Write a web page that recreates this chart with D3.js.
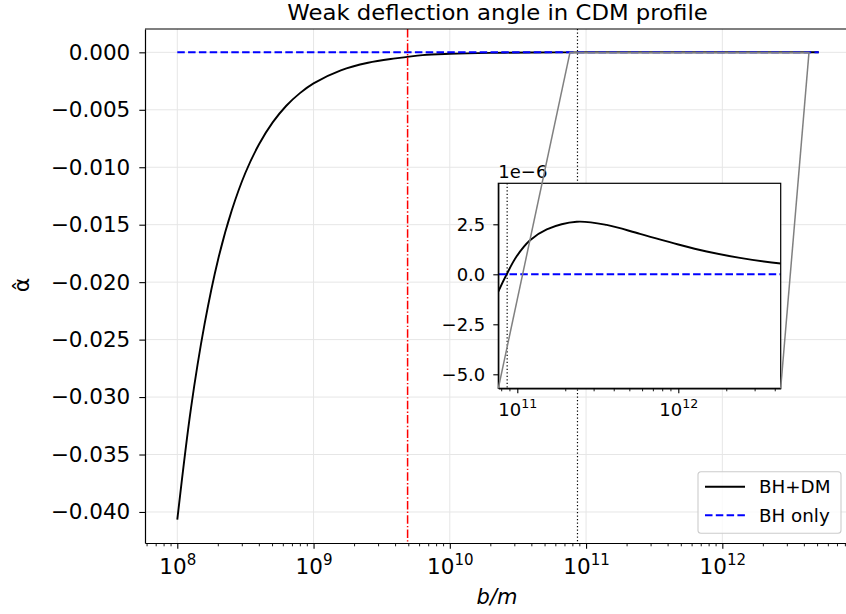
<!DOCTYPE html>
<html>
<head>
<meta charset="utf-8">
<script src="https://cdn.jsdelivr.net/npm/d3@7"></script>
<style>
  body { margin: 0; background: #fff; }
  svg { display: block; font-family: "DejaVu Sans", sans-serif; }
</style>
</head>
<body>
<svg id="chart" width="846" height="614"></svg>
<script>
// values
const bGrid = [1e8, 1.259e8, 1.585e8, 1.995e8, 2.512e8, 3.162e8, 3.981e8, 5.012e8, 6.31e8, 7.943e8,
  1e9, 1.585e9, 2.512e9, 3.981e9, 6.31e9, 1e10, 2e10, 4e10, 6.31e10,
  7.62e10, 8.59e10, 9.91e10, 1.2e11, 1.524e11, 2.339e11, 3.589e11, 5.781e11,
  1e12, 1.5e12, 2.415e12, 4.325e12, 5.1e12];
const alphaBHDM = [-0.04067, -0.0310, -0.02365, -0.0180, -0.01375, -0.01048, -0.0080, -0.0061, -0.00465, -0.00355,
  -0.0027, -0.00157, -0.00091, -0.00053, -0.00024, -0.00013, -5e-5, -1.4e-5, -2.4e-6,
  -0.87e-6, 0, 0.9e-6, 1.7e-6, 2.25e-6, 2.63e-6, 2.47e-6, 2.02e-6,
  1.49e-6, 1.14e-6, 0.82e-6, 0.54e-6, 0.5e-6];
const bBHonly = [1e8, 5.1e12];
const alphaBHonly = [0, 0];

const yTicks = [0, -0.005, -0.01, -0.015, -0.02, -0.025, -0.03, -0.035, -0.04];
const xTickExps = [8, 9, 10, 11, 12];
const insetYTicks = [2.5e-6, 0, -2.5e-6, -5e-6];
const insetXTickExps = [11, 12];
const bRedLine = 4.9e9;
const bDotLine = 8.65e10;

const svg = d3.select("#chart");
const main = { left: 145, right: 850, top: 29, bottom: 543 };
const ins = { left: 498.3, right: 780.7, top: 183.3, bottom: 388.3 };

const x = d3.scaleLog().domain([Math.pow(10, 7.763), Math.pow(10, 12.937)]).range([main.left, main.right]);
const y = d3.scaleLinear().domain([-0.0427, 0.00203]).range([main.bottom, main.top]);
const xi = d3.scaleLog().domain([Math.pow(10, 10.882), Math.pow(10, 12.636)]).range([ins.left, ins.right]);
const yi = d3.scaleLinear().domain([-5.7e-6, 4.55e-6]).range([ins.bottom, ins.top]);

const series = bGrid.map((b, i) => ({ b: b, a: alphaBHDM[i] }));
const bhOnly = bBHonly.map((b, i) => ({ b: b, a: alphaBHonly[i] }));

const defs = svg.append("defs");
defs.append("clipPath").attr("id", "clipMain").append("rect")
  .attr("x", main.left).attr("y", main.top)
  .attr("width", main.right - main.left).attr("height", main.bottom - main.top);
defs.append("clipPath").attr("id", "clipInset").append("rect")
  .attr("x", ins.left).attr("y", ins.top)
  .attr("width", ins.right - ins.left).attr("height", ins.bottom - ins.top);

function supLabel(sel, exps, size) {
  sel.each(function (d, i) {
    const t = d3.select(this);
    t.text(null);
    t.append("tspan").text("10");
    t.append("tspan").attr("dy", -size * 0.42).attr("font-size", size * 0.7).text(exps[i]);
  });
}

// grid
const grid = svg.append("g").attr("stroke", "#e6e6e6").attr("stroke-width", 1);
grid.selectAll("line.gx").data(xTickExps).enter().append("line")
  .attr("x1", d => x(Math.pow(10, d))).attr("x2", d => x(Math.pow(10, d)))
  .attr("y1", main.top).attr("y2", main.bottom);
grid.selectAll("line.gy").data(yTicks).enter().append("line")
  .attr("x1", main.left).attr("x2", main.right)
  .attr("y1", d => y(d)).attr("y2", d => y(d));

const plot = svg.append("g").attr("clip-path", "url(#clipMain)");

const line = d3.line().x(d => x(d.b)).y(d => y(d.a)).curve(d3.curveCatmullRom.alpha(0.5));
plot.append("path").datum(series)
  .attr("d", line).attr("fill", "none").attr("stroke", "#000").attr("stroke-width", 1.9);
plot.append("path").datum(bhOnly)
  .attr("d", line).attr("fill", "none").attr("stroke", "#0000ff").attr("stroke-width", 2)
  .attr("stroke-dasharray", "7.5,3.3");

plot.append("line")
  .attr("x1", x(bRedLine)).attr("x2", x(bRedLine)).attr("y1", main.top).attr("y2", main.bottom)
  .attr("stroke", "#ff0000").attr("stroke-width", 1.5).attr("stroke-dasharray", "8.5,2.2,1.4,2.2");
plot.append("line")
  .attr("x1", x(bDotLine)).attr("x2", x(bDotLine)).attr("y1", main.top).attr("y2", main.bottom)
  .attr("stroke", "#000").attr("stroke-width", 1.2).attr("stroke-dasharray", "1.3,2.2");

// zoom indicator rectangle
const rx0 = x(xi.domain()[0]), rx1 = x(xi.domain()[1]);
const ry0 = y(yi.domain()[0]), ry1 = y(yi.domain()[1]);
plot.append("rect")
  .attr("x", rx0).attr("y", ry1).attr("width", rx1 - rx0).attr("height", Math.max(ry0 - ry1, 0.5))
  .attr("fill", "none").attr("stroke", "#808080").attr("stroke-width", 1.2);

// main axes
const xAxis = svg.append("g").attr("transform", `translate(0,${main.bottom})`)
  .call(d3.axisBottom(x).tickValues(xTickExps.map(e => Math.pow(10, e))).tickSize(5.7).tickSizeOuter(0));
const xMinor = x.ticks().filter(v => Math.abs(Math.log10(v) - Math.round(Math.log10(v))) > 1e-6);
xAxis.selectAll(".minor").data(xMinor).enter().append("line").attr("class", "minor")
  .attr("x1", d => x(d)).attr("x2", d => x(d)).attr("y1", 0).attr("y2", 3.3)
  .attr("stroke", "#000").attr("stroke-width", 0.9);
xAxis.selectAll(".tick text").attr("y", 31).attr("dy", null)
  .attr("font-size", 21.5).attr("font-family", "DejaVu Sans").attr("fill", "#000")
  .call(supLabel, xTickExps, 21.5);

const yAxis = svg.append("g").attr("transform", `translate(${main.left},0)`)
  .call(d3.axisLeft(y).tickValues(yTicks).tickFormat(d3.format(".3f")).tickSize(5.7).tickPadding(9).tickSizeOuter(0));
yAxis.selectAll(".tick text").attr("font-size", 21.5).attr("font-family", "DejaVu Sans").attr("fill", "#000");

[xAxis, yAxis].forEach(a => {
  a.select(".domain").attr("stroke-width", 1.2);
  a.selectAll(".tick line").attr("stroke-width", 1.1);
});
svg.append("line").attr("x1", main.left).attr("x2", main.right)
  .attr("y1", main.top).attr("y2", main.top).attr("stroke", "#000").attr("stroke-width", 1.2);

svg.append("text").attr("transform", "translate(497.5,20) scale(1.085,1)").attr("text-anchor", "middle")
  .attr("font-size", 21).text("Weak deflection angle in CDM profile");
svg.append("text").attr("x", 497).attr("y", 604).attr("text-anchor", "middle")
  .attr("font-size", 21).attr("font-style", "italic").text("b/m");
svg.append("text").attr("transform", "translate(29,285) rotate(-90)").attr("text-anchor", "middle")
  .attr("font-size", 22).text("\u03b1\u0302");

// legend
const leg = svg.append("g").attr("transform", "translate(698,471.7)");
leg.append("rect").attr("width", 143).attr("height", 61.6).attr("rx", 3)
  .attr("fill", "#fff").attr("fill-opacity", 0.8).attr("stroke", "#cccccc").attr("stroke-width", 1.1);
const legItems = [
  { label: "BH+DM", color: "#000", dash: null },
  { label: "BH only", color: "#0000ff", dash: "7.5,3.3" }
];
legItems.forEach((d, i) => {
  const yy = 15 + i * 28.5;
  leg.append("line").attr("x1", 7).attr("x2", 47).attr("y1", yy).attr("y2", yy)
    .attr("stroke", d.color).attr("stroke-width", 2).attr("stroke-dasharray", d.dash);
  leg.append("text").attr("x", 61).attr("y", yy + 6.5).attr("font-size", 18.3).text(d.label);
});

// inset axes
const inset = svg.append("g");
inset.append("rect").attr("x", ins.left).attr("y", ins.top)
  .attr("width", ins.right - ins.left).attr("height", ins.bottom - ins.top).attr("fill", "#fff");
const iplot = inset.append("g").attr("clip-path", "url(#clipInset)");
const iline = d3.line().x(d => xi(d.b)).y(d => yi(d.a)).curve(d3.curveCatmullRom.alpha(0.5));
iplot.append("path").datum(series)
  .attr("d", iline).attr("fill", "none").attr("stroke", "#000").attr("stroke-width", 1.9);
iplot.append("path").datum(bhOnly)
  .attr("d", iline).attr("fill", "none").attr("stroke", "#0000ff").attr("stroke-width", 2)
  .attr("stroke-dasharray", "7.5,3.3");
iplot.append("line")
  .attr("x1", xi(bDotLine)).attr("x2", xi(bDotLine)).attr("y1", ins.top).attr("y2", ins.bottom)
  .attr("stroke", "#000").attr("stroke-width", 1.2).attr("stroke-dasharray", "1.3,2.2");

const ixAxis = inset.append("g").attr("transform", `translate(0,${ins.bottom})`)
  .call(d3.axisBottom(xi).tickValues(insetXTickExps.map(e => Math.pow(10, e))).tickSize(5).tickSizeOuter(0));
const ixMinor = xi.ticks().filter(v => Math.abs(Math.log10(v) - Math.round(Math.log10(v))) > 1e-6);
ixAxis.selectAll(".minor").data(ixMinor).enter().append("line").attr("class", "minor")
  .attr("x1", d => xi(d)).attr("x2", d => xi(d)).attr("y1", 0).attr("y2", 3)
  .attr("stroke", "#000").attr("stroke-width", 0.9);
ixAxis.selectAll(".tick text").attr("y", 27.5).attr("dy", null)
  .attr("font-size", 18).attr("font-family", "DejaVu Sans").attr("fill", "#000")
  .call(supLabel, insetXTickExps, 18);

const iyAxis = inset.append("g").attr("transform", `translate(${ins.left},0)`)
  .call(d3.axisLeft(yi).tickValues(insetYTicks).tickFormat(d => d3.format(".1f")(d * 1e6))
    .tickSize(5).tickPadding(8).tickSizeOuter(0));
iyAxis.selectAll(".tick text").attr("font-size", 18).attr("font-family", "DejaVu Sans").attr("fill", "#000");
[ixAxis, iyAxis].forEach(a => {
  a.select(".domain").attr("stroke-width", 1.2);
  a.selectAll(".tick line").attr("stroke-width", 1.1);
});
inset.append("rect").attr("x", ins.left).attr("y", ins.top)
  .attr("width", ins.right - ins.left).attr("height", ins.bottom - ins.top)
  .attr("fill", "none").attr("stroke", "#000").attr("stroke-width", 1.2);
inset.append("text").attr("x", ins.left).attr("y", 177.5).attr("font-size", 18).text("1e\u22126");

// connectors from inset to indicator rectangle
const conn = [[ins.left, rx0], [ins.right, rx1]];
svg.selectAll("line.conn").data(conn).enter().append("line").attr("class", "conn")
  .attr("x1", d => d[0]).attr("y1", ins.bottom).attr("x2", d => d[1]).attr("y2", ry0)
  .attr("stroke", "#808080").attr("stroke-width", 1.5);
</script>
</body>
</html>
